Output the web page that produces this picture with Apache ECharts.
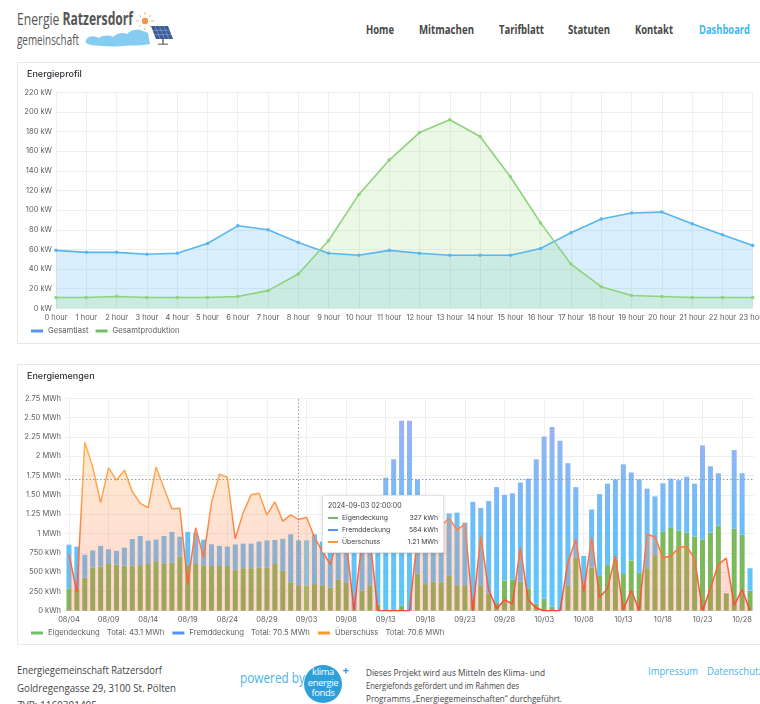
<!DOCTYPE html>
<html>
<head>
<meta charset="utf-8">
<script src="https://cdn.jsdelivr.net/npm/echarts/dist/echarts.min.js"></script>
<style>
html,body{margin:0;padding:0;background:#fff;width:760px;height:704px;overflow:hidden;font-family:Inter,'Noto Sans',sans-serif;}
.abs{position:absolute;white-space:nowrap;}
.os{font-family:'Open Sans','Liberation Sans',sans-serif;}
.panel{position:absolute;border:1px solid #e7e7e7;box-sizing:border-box;}
.nav{position:absolute;top:21px;font-size:13px;line-height:16px;font-weight:bold;color:#474747;}
.f1{font-size:11px;line-height:16px;color:#444;}
.f2{font-size:9px;line-height:12px;color:#444;}
</style>
</head>
<body>
<!-- header / logo -->
<svg class="abs" style="left:0;top:0" width="190" height="56">
  <path d="M86,40 C89,35 95,36 99,38 C103,35 109,35 113,37 C117,33 123,32 127,34 C131,29 139,29 143,31 L148,33 L150,44 C142,46 132,45 124,46 C112,47 100,46 91,45 C86,44 85,42 86,40 Z" fill="#84cdf1"/>
  <circle cx="145" cy="21" r="3.2" fill="#f29450"/>
  <g stroke="#f5b27a" stroke-width="1">
    <line x1="145" y1="12" x2="145" y2="15"/><line x1="145" y1="27" x2="145" y2="30"/>
    <line x1="136" y1="21" x2="139" y2="21"/><line x1="151" y1="21" x2="154" y2="21"/>
    <line x1="139" y1="15" x2="141" y2="17"/><line x1="149" y1="25" x2="151" y2="27"/>
    <line x1="151" y1="15" x2="149" y2="17"/><line x1="139" y1="27" x2="141" y2="25"/>
  </g>
  <polygon points="151,26 168,26 173,39 156,39" fill="#3b5b97"/>
  <g stroke="#8fa8d8" stroke-width="0.6">
    <line x1="152.7" y1="30.3" x2="169.7" y2="30.3"/><line x1="154.3" y1="34.6" x2="171.3" y2="34.6"/>
    <line x1="155.2" y1="26" x2="160.2" y2="39"/><line x1="159.5" y1="26" x2="164.5" y2="39"/><line x1="163.8" y1="26" x2="168.8" y2="39"/>
  </g>
  <rect x="162" y="39" width="2" height="5" fill="#8a8a8a"/>
  <rect x="158" y="43.5" width="10" height="1.5" fill="#8a8a8a"/>
</svg>
<div class="abs os fit" data-w="116" style="left:17px;top:8px;font-size:17px;line-height:22px;color:#555;"><span>Energie <b>Ratzersdorf</b></span></div>
<div class="abs os fit" data-w="62" style="left:17px;top:31px;font-size:14px;line-height:18px;color:#555;"><span>gemeinschaft</span></div>

<div class="nav os fit" data-w="28" style="left:366px"><span>Home</span></div>
<div class="nav os fit" data-w="55" style="left:419px"><span>Mitmachen</span></div>
<div class="nav os fit" data-w="45" style="left:499px"><span>Tarifblatt</span></div>
<div class="nav os fit" data-w="42" style="left:568px"><span>Statuten</span></div>
<div class="nav os fit" data-w="38" style="left:635px"><span>Kontakt</span></div>
<div class="nav os fit" data-w="51" style="left:699px;color:#3fb7f0"><span>Dashboard</span></div>

<!-- panels -->
<div class="panel" style="left:17px;top:62px;width:750px;height:282px;"></div>
<div id="c1" class="abs" style="left:18px;top:63px;width:742px;height:280px;"></div>
<div class="panel" style="left:17px;top:364px;width:750px;height:281px;"></div>
<div id="c2" class="abs" style="left:18px;top:365px;width:742px;height:279px;"></div>

<!-- footer -->
<div class="abs os fit f1" data-w="145" style="left:17px;top:662px;"><span>Energiegemeinschaft Ratzersdorf</span></div>
<div class="abs os fit f1" data-w="159" style="left:17px;top:680px;"><span>Goldregengasse 29, 3100 St. Pölten</span></div>
<div class="abs os fit f1" data-w="80" style="left:17px;top:697px;"><span>ZVR: 1160301405</span></div>
<div class="abs os fit" data-w="65" style="left:240px;top:667px;font-size:15px;line-height:20px;color:#4ab3e6;"><span>powered by</span></div>
<div class="abs" style="left:304px;top:665px;width:38px;height:38px;border-radius:50%;background:#2f9fd9;"></div>
<div class="abs os" style="left:304px;top:667px;width:38px;text-align:center;font-size:9.5px;line-height:10.5px;color:#fff;letter-spacing:-0.4px;">klima<br>energie<br>fonds</div>
<div class="abs" style="left:342px;top:664px;font-size:11px;line-height:12px;color:#2f9fd9;font-weight:bold;">+</div>
<div class="abs os fit f2" data-w="179" style="left:366px;top:667px;"><span>Dieses Projekt wird aus Mitteln des Klima- und</span></div>
<div class="abs os fit f2" data-w="153" style="left:366px;top:680px;"><span>Energiefonds gefördert und im Rahmen des</span></div>
<div class="abs os fit f2" data-w="196" style="left:366px;top:693px;"><span>Programms „Energiegemeinschaften“ durchgeführt.</span></div>
<div class="abs os fit" data-w="50" style="left:648px;top:663px;font-size:11.5px;line-height:16px;color:#4ab3e6;"><span>Impressum</span></div>
<div class="abs os fit" data-w="56" style="left:707px;top:663px;font-size:11.5px;line-height:16px;color:#4ab3e6;"><span>Datenschutz</span></div>

<script>
// fit condensed web texts to their widths
document.querySelectorAll('.fit').forEach(el => {
  const w = el.firstElementChild.getBoundingClientRect().width;
  el.style.transformOrigin = 'left top';
  el.style.transform = 'scaleX(' + (parseFloat(el.dataset.w) / w) + ')';
});

// ---------- Energieprofil data ----------
const hourLabels = [];
for (let h = 0; h < 24; h++) hourLabels.push(h + ' hour');
const gesamtlast       = [59, 57, 57, 55, 56, 66, 84, 80, 67, 56, 54, 59, 56, 54, 54, 54, 61, 77, 91, 97, 98, 86, 75, 64];
const gesamtproduktion = [11, 11, 12, 11, 11, 11, 12, 18, 35, 69, 116, 151, 179, 192, 175, 134, 87, 45, 22, 13, 12, 11, 11, 11];

// ---------- Energiemengen data (kWh per day) ----------
const dates = [];
const startMs = Date.UTC(2024, 7, 4);
for (let i = 0; i < 87; i++) dates.push(new Date(startMs + i * 86400000).toISOString().slice(0, 10));
const dayLabels = dates.map(s => s.slice(5, 7) + '/' + s.slice(8, 10));

const eigendeckung = [285,290,430,560,570,605,596,583,583,590, 605,640,613,620,700,590,605,587,580,580,
  580,530,550,550,557,557,605,514,367,330, 327,345,330,300,400,360,20,260,330,80,
  10,0,65,0,480,345,375,360,450,330, 330,150,330,220,100,390,400,375,290,90,
  155,55,0,320,690,340,557,450,590,665, 475,650,490,550,720,1020,1080,1035,1010,960,
  920,1010,1100,225,1060,985,260];
const fremddeckung = [570,540,295,220,270,190,179,233,345,377, 302,280,354,400,258,430,405,333,280,260,
  250,328,318,318,337,353,310,416,623,580, 584,645,565,650,600,690,1080,940,970,1370,
  1710,1960,2395,2460,1220,855,875,910,810,940, 810,1260,1000,1200,1500,1110,1120,1285,1420,1870,
  2100,2325,2200,1590,910,370,753,1060,1055,1035, 1420,1140,1210,1030,760,630,630,655,725,685,
  1220,860,680,0,1020,795,290];
const ueberschuss = [740,235,2180,1860,1400,1850,1690,1820,1540,1390, 1334,1860,1585,1320,1325,345,1075,690,1400,1766,
  1727,930,1270,1500,1520,1240,1410,1160,1240,1180, 1210,950,770,600,950,900,0,900,950,0,
  0,0,0,0,950,1000,1050,1100,1200,1045, 1125,0,960,270,30,140,90,815,140,35,
  0,0,0,620,925,250,945,175,285,710, 10,265,5,990,955,685,705,818,835,675,
  0,290,600,680,70,275,0];
const energyTickLabels = ['0 kWh','250 kWh','500 kWh','750 kWh','1 MWh','1.25 MWh','1.50 MWh','1.75 MWh','2 MWh','2.25 MWh','2.50 MWh','2.75 MWh'];
const legendTotals = {'Eigendeckung': '43.1 MWh', 'Fremddeckung': '70.5 MWh', 'Überschuss': '70.6 MWh'};
const legendColors = ['#73BF69', '#5794F2', '#FF9830'];
const tooltipIndex = 30;
const crosshairIndex = 29;
const crosshairValue = 1700;

const FONT = 'Inter, "Noto Sans", sans-serif';
const LABEL = '#5d6064';

// ---------- Chart 1 ----------
const c1 = echarts.init(document.getElementById('c1'), null, {renderer: 'canvas'});
c1.setOption({
  animation: false,
  title: {text: 'Energieprofil', left: 4, top: 2, textStyle: {fontSize: 9, fontWeight: 500, color: '#2f3237', fontFamily: FONT}},
  grid: {left: 38, right: 7.3, top: 29.3, bottom: 34.7, containLabel: false, outerBoundsMode: 'none'},
  legend: {
    left: 8, top: 259, icon: 'rect', itemWidth: 12, itemHeight: 3, itemGap: 7,
    textStyle: {fontSize: 7.7, color: LABEL, fontFamily: FONT},
    data: [{name: 'Gesamtlast', itemStyle: {color: '#5794F2'}}, {name: 'Gesamtproduktion', itemStyle: {color: '#73BF69'}}]
  },
  xAxis: {
    type: 'category', data: hourLabels, boundaryGap: false,
    axisLine: {show: false}, axisTick: {show: false},
    axisLabel: {interval: 0, fontSize: 7.5, color: LABEL, margin: 5, fontFamily: FONT},
    splitLine: {show: true, lineStyle: {color: '#efefef', width: 1}}
  },
  yAxis: {
    type: 'value', min: 0, max: 220, interval: 20,
    axisLine: {show: false}, axisTick: {show: false},
    axisLabel: {formatter: '{value} kW', fontSize: 7.5, color: LABEL, margin: 4, fontFamily: FONT},
    splitLine: {lineStyle: {color: '#efefef', width: 1}}
  },
  series: [
    {name: 'Gesamtlast', type: 'line', data: gesamtlast, symbol: 'circle', symbolSize: 3.5,
      itemStyle: {color: '#58b5ee'}, lineStyle: {color: '#58b5ee', width: 1.6},
      areaStyle: {color: 'rgba(80,185,238,0.32)'}},
    {name: 'Gesamtproduktion', type: 'line', data: gesamtproduktion, symbol: 'circle', symbolSize: 3.5,
      itemStyle: {color: '#8fd27c'}, lineStyle: {color: '#8fd27c', width: 1.6},
      areaStyle: {color: 'rgba(150,220,120,0.28)'}}
  ]
});

// ---------- Chart 2 ----------
function fmt(v) {
  if (v >= 1000) return (v / 1000).toFixed(2) + ' MWh';
  return Math.round(v) + ' kWh';
}
const c2 = echarts.init(document.getElementById('c2'), null, {renderer: 'canvas'});
c2.setOption({
  animation: false,
  title: {text: 'Energiemengen', left: 4, top: 2, textStyle: {fontSize: 9, fontWeight: 500, color: '#2f3237', fontFamily: FONT}},
  grid: {left: 47, right: 6, top: 33.3, bottom: 33.3, containLabel: false, outerBoundsMode: 'none'},
  legend: {
    left: 8, top: 259, icon: 'rect', itemWidth: 12, itemHeight: 3, itemGap: 8,
    formatter: name => '{n|' + name + '}{t|Total: ' + legendTotals[name] + '}',
    textStyle: {fontSize: 7.7, color: LABEL, fontFamily: FONT,
      rich: {n: {fontSize: 7.7, color: LABEL, fontFamily: FONT}, t: {fontSize: 7.7, color: LABEL, fontFamily: FONT, padding: [0, 0, 0, 7]}}},
    data: [
      {name: 'Eigendeckung', itemStyle: {color: legendColors[0]}},
      {name: 'Fremddeckung', itemStyle: {color: legendColors[1]}},
      {name: 'Überschuss', itemStyle: {color: legendColors[2]}}
    ]
  },
  tooltip: {
    trigger: 'axis', triggerOn: 'none', alwaysShowContent: true, transitionDuration: 0, showDelay: 0,
    axisPointer: {type: 'none'},
    position: [304, 130],
    backgroundColor: '#ffffff', borderColor: '#e2e2e2', borderWidth: 1, padding: [4, 5, 4, 5],
    textStyle: {fontSize: 6.8, color: '#3b3d40', fontFamily: FONT},
    extraCssText: 'box-shadow:0 1px 4px rgba(0,0,0,0.13);border-radius:2px;width:122px;box-sizing:border-box;',
    formatter: function (params) {
      const i = params[0].dataIndex;
      let h = '<div style="line-height:12px;font-size:7px">' + dates[i] + ' 02:00:00</div>';
      params.forEach(p => {
        h += '<div style="display:flex;align-items:center;height:12px;line-height:12px">' +
          '<span style="display:inline-block;width:10px;height:2px;background:' + legendColors[p.seriesIndex] + ';margin-right:4px"></span>' +
          '<span style="flex:1">' + p.seriesName + '</span><span>' + fmt(p.value) + '</span></div>';
      });
      return h;
    }
  },
  xAxis: {
    type: 'category', data: dayLabels, boundaryGap: true,
    axisLine: {show: false}, axisTick: {show: false, interval: 4, alignWithLabel: true},
    axisLabel: {interval: 4, fontSize: 7.5, color: LABEL, margin: 5, fontFamily: FONT},
    splitLine: {show: true, interval: 4, alignWithLabel: true, lineStyle: {color: '#efefef', width: 1}}
  },
  yAxis: {
    type: 'value', min: 0, max: 2750, interval: 250,
    axisLine: {show: false}, axisTick: {show: false},
    axisLabel: {formatter: v => energyTickLabels[Math.round(v / 250)], fontSize: 7.5, color: LABEL, margin: 4, fontFamily: FONT},
    splitLine: {lineStyle: {color: '#efefef', width: 1}}
  },
  series: [
    {name: 'Eigendeckung', type: 'bar', stack: 'e', data: eigendeckung, barWidth: 5, itemStyle: {color: '#7cb95c'}},
    {name: 'Fremddeckung', type: 'bar', stack: 'e', data: fremddeckung, barWidth: 5, itemStyle: {color: '#6cbcf7'}},
    {name: 'Überschuss', type: 'line', data: ueberschuss, showSymbol: false, symbol: 'none',
      lineStyle: {width: 1.5, color: '#f57a42'}, areaStyle: {color: 'rgba(245,120,80,0.38)'},
      markLine: {
        silent: true, symbol: ['none', 'none'], label: {show: false},
        lineStyle: {type: [1.5, 2], color: '#8d9bab', width: 1},
        data: [{xAxis: dayLabels[crosshairIndex]}, {yAxis: crosshairValue}]
      }}
  ]
});

// value-based gradients (colour shifts with height, like the original)
const yZero = c2.convertToPixel({yAxisIndex: 0}, 0);
const yTop = c2.convertToPixel({yAxisIndex: 0}, 2750);
const G = (stops) => new echarts.graphic.LinearGradient(0, yTop, 0, yZero, stops, true);
c2.setOption({
  series: [
    {},
    {itemStyle: {color: G([{offset: 0, color: '#a6b0f5'}, {offset: 0.2, color: '#94b4f6'}, {offset: 0.6, color: '#6cbdf7'}, {offset: 1, color: '#57c9fa'}])}},
    {lineStyle: {color: G([{offset: 0, color: '#ffb25a'}, {offset: 0.2, color: '#ffa24c'}, {offset: 0.455, color: '#fc9246'}, {offset: 0.636, color: '#f67542'}, {offset: 0.818, color: '#f05a3a'}, {offset: 1, color: '#e9402e'}])},
     areaStyle: {color: G([{offset: 0, color: 'rgba(255,165,85,0.42)'}, {offset: 0.3, color: 'rgba(255,160,80,0.40)'}, {offset: 1, color: 'rgba(240,95,80,0.37)'}])}}
  ]
});
c2.dispatchAction({type: 'showTip', seriesIndex: 2, dataIndex: tooltipIndex});
</script>
</body>
</html>
